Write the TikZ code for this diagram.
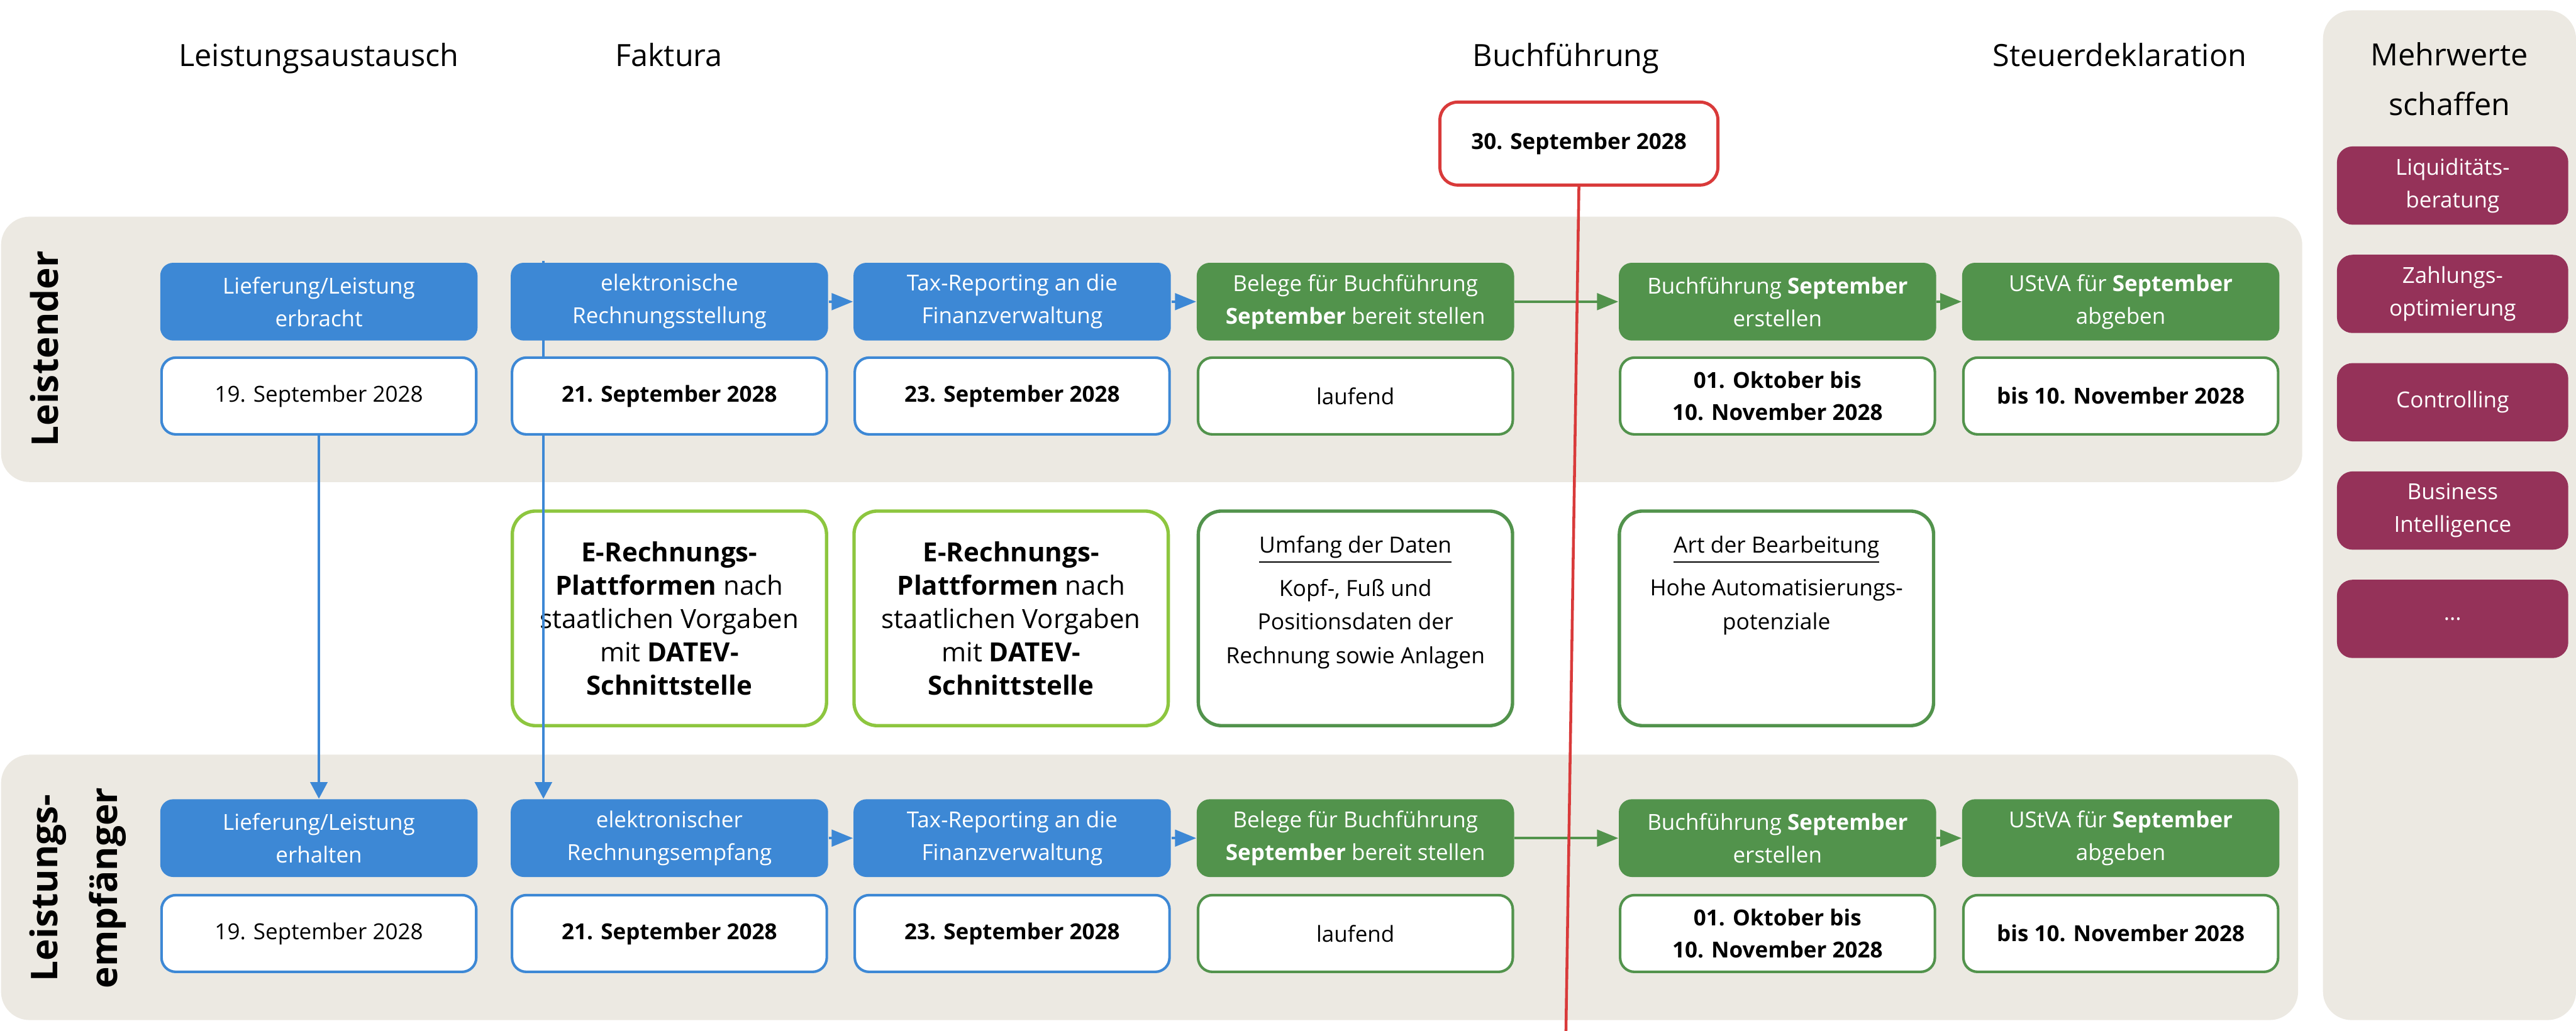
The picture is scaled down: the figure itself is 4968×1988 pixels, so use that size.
\documentclass[tikz,border=0pt]{standalone}
\usepackage{fontspec}
\setmainfont{Open Sans}
\usetikzlibrary{arrows.meta}
\definecolor{bandgray}{RGB}{236,233,226}
\definecolor{myblue}{RGB}{61,136,213}
\definecolor{mygreen}{RGB}{82,147,76}
\definecolor{lightgreen}{RGB}{141,198,63}
\definecolor{myred}{RGB}{217,58,58}
\definecolor{mypurple}{RGB}{149,50,89}
\pgfdeclarelayer{bg}
\pgfdeclarelayer{mid}
\pgfsetlayers{bg,mid,main}
\newcommand\boxfont{\fontsize{8.5}{12.6}\selectfont}
\newcommand\midfont{\fontsize{10.2}{12.9}\selectfont}
\newcommand\infofont{\fontsize{8.6}{13}\selectfont}
\begin{document}
\begin{tikzpicture}[x=0.2pt,y=-0.2pt,
  band/.style={fill=bandgray, rounded corners=11pt},
  procbox/.style={rounded corners=5pt, minimum width=122.4pt, minimum height=30pt, inner sep=0pt, align=center, text=white, font=\boxfont},
  bluebox/.style={procbox, fill=myblue},
  greenbox/.style={procbox, fill=mygreen},
  datebox/.style={fill=white, draw=#1, line width=1pt, rounded corners=5.5pt, minimum width=121.4pt, minimum height=29.6pt, inner sep=0pt, align=center, font=\boxfont},
  midbox/.style={fill=white, draw=#1, line width=1.3pt, rounded corners=9pt, minimum width=121.2pt, minimum height=82.8pt, inner sep=0pt, align=center},
  infotext/.style={anchor=north, align=center, inner sep=0pt, font=\infofont},
  purplebox/.style={fill=mypurple, rounded corners=6pt, minimum width=89.2pt, minimum height=30.2pt, text=white, align=center, inner sep=0pt, font=\boxfont},
  header/.style={anchor=base, inner sep=0pt, font=\fontsize{11.8}{19}\selectfont},
  lanelabel/.style={rotate=90, inner sep=0pt, font=\fontsize{14.2}{23}\selectfont\bfseries, align=center},
  harrow/.style={line width=1pt, color=#1, -{Triangle[length=8.2pt,width=6.4pt]}},
  varrow/.style={line width=0.8pt, color=myblue, -{Triangle[length=6.4pt,width=6.6pt]}},
  redbox/.style={fill=white, draw=myred, line width=1.2pt, rounded corners=6.8pt, minimum width=107.2pt, minimum height=32pt, inner sep=0pt, font=\boxfont\bfseries}
]
\useasboundingbox (0,0) rectangle (4968,1988);

% backgrounds
\begin{pgfonlayer}{bg}
\fill[band] (2,418) rectangle (4440,930);
\fill[band] (2,1456) rectangle (4432,1968);
\fill[band] (4480,20) rectangle (4968,1968);
% middle boxes
\node[midbox=lightgreen, font=\midfont] (mA) at (1291,1193) {\textbf{E-Rechnungs-}\\\textbf{Plattformen} nach\\staatlichen Vorgaben\\mit \textbf{DATEV-}\\\textbf{Schnittstelle}};
\node[midbox=lightgreen, font=\midfont] (mB) at (1950,1193) {\textbf{E-Rechnungs-}\\\textbf{Plattformen} nach\\staatlichen Vorgaben\\mit \textbf{DATEV-}\\\textbf{Schnittstelle}};
\node[midbox=mygreen] (mC) at (2614,1193) {};
\node[midbox=mygreen] (mD) at (3426,1193) {};
\end{pgfonlayer}

\node[infotext] (mCt) at (2614,1033) {\underline{Umfang der Daten}\\[3.6pt]Kopf-, Fuß und\\Positionsdaten der\\Rechnung sowie Anlagen};
\node[infotext] (mDt) at (3426,1033) {\underline{Art der Bearbeitung}\\[3.6pt]Hohe Automatisierungs-\\potenziale};

% headers
\node[header] (h1) at (615,128) {Leistungsaustausch};
\node[header] (h2) at (1290,128) {Faktura};
\node[header] (h3) at (3020,128) {Buchführung};
\node[header] (h4) at (4088,128) {Steuerdeklaration};
\node[header] (h5) at (4724,127) {Mehrwerte};
\node[header] (h6) at (4724,222) {schaffen};

% lane labels
\node[lanelabel] (l1) at (86,673) {Leistender};
\node[lanelabel] (l2) at (150,1713) {Leistungs-\\empfänger};

% top row
\node[bluebox] (t1) at (615,582) {Lieferung/Leistung\\erbracht};
\node[bluebox] (t2) at (1291,582) {elektronische\\Rechnungsstellung};
\node[bluebox] (t3) at (1952,582) {Tax-Reporting an die\\Finanzverwaltung};
\node[greenbox] (t4) at (2614,582) {Belege für Buchführung\\\textbf{September} bereit stellen};
\node[greenbox] (t5) at (3428,582) {Buchführung \textbf{September}\\erstellen};
\node[greenbox] (t6) at (4090,582) {UStVA für \textbf{September}\\abgeben};

\node[datebox=myblue] (t1d) at (615,764) {19. September 2028};
\node[datebox=myblue] (t2d) at (1291,764) {\textbf{21. September 2028}};
\node[datebox=myblue] (t3d) at (1952,764) {\textbf{23. September 2028}};
\node[datebox=mygreen] (t4d) at (2614,764) {laufend};
\node[datebox=mygreen] (t5d) at (3428,764) {\textbf{01. Oktober bis}\\\textbf{10. November 2028}};
\node[datebox=mygreen] (t6d) at (4090,764) {\textbf{bis 10. November 2028}};

% bottom row
\node[bluebox] (b1) at (615,1617) {Lieferung/Leistung\\erhalten};
\node[bluebox] (b2) at (1291,1617) {elektronischer\\Rechnungsempfang};
\node[bluebox] (b3) at (1952,1617) {Tax-Reporting an die\\Finanzverwaltung};
\node[greenbox] (b4) at (2614,1617) {Belege für Buchführung\\\textbf{September} bereit stellen};
\node[greenbox] (b5) at (3428,1617) {Buchführung \textbf{September}\\erstellen};
\node[greenbox] (b6) at (4090,1617) {UStVA für \textbf{September}\\abgeben};

\node[datebox=myblue] (b1d) at (615,1801) {19. September 2028};
\node[datebox=myblue] (b2d) at (1291,1801) {\textbf{21. September 2028}};
\node[datebox=myblue] (b3d) at (1952,1801) {\textbf{23. September 2028}};
\node[datebox=mygreen] (b4d) at (2614,1801) {laufend};
\node[datebox=mygreen] (b5d) at (3428,1801) {\textbf{01. Oktober bis}\\\textbf{10. November 2028}};
\node[datebox=mygreen] (b6d) at (4090,1801) {\textbf{bis 10. November 2028}};

% Mehrwerte boxes
\node[purplebox] (p1) at (4730,358) {Liquiditäts-\\beratung};
\node[purplebox] (p2) at (4730,567) {Zahlungs-\\optimierung};
\node[purplebox] (p3) at (4730,776) {Controlling};
\node[purplebox] (p4) at (4730,985) {Business\\Intelligence};
\node[purplebox] (p5) at (4730,1194) {...};

% vertical arrows
\coordinate (v2s) at (1048,503);
\begin{pgfonlayer}{mid}
\draw[varrow] (v2s) -- (v2s |- b2.north);
\end{pgfonlayer}
\draw[varrow] (t1d.south) -- (b1.north);

% horizontal arrows
\draw[harrow=myblue] (t2.east) -- (t3.west);
\draw[harrow=myblue] (t3.east) -- (t4.west);
\draw[harrow=mygreen] (t4.east) -- (t5.west);
\draw[harrow=mygreen] (t5.east) -- (t6.west);
\draw[harrow=myblue] (b2.east) -- (b3.west);
\draw[harrow=myblue] (b3.east) -- (b4.west);
\draw[harrow=mygreen] (b4.east) -- (b5.west);
\draw[harrow=mygreen] (b5.east) -- (b6.west);

% deadline
\node[redbox] (red) at (3045,277) {30. September 2028};
\coordinate (redend) at (3020,1990);
\draw[myred, line width=1.1pt] (red.south) -- (redend);
\end{tikzpicture}
\end{document}
